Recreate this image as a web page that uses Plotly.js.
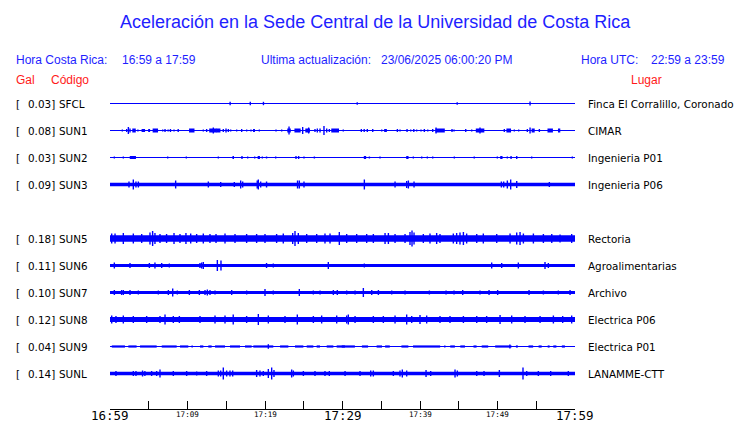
<!DOCTYPE html>
<html><head><meta charset="utf-8">
<script src="https://cdn.plot.ly/plotly-3.0.1.min.js"></script>
<style>html,body{margin:0;padding:0;background:#fff}#chart{width:740px;height:423px}</style>
</head><body><div id="chart"></div>
<script>
// ---------- DATA ----------
const codes  = ['SFCL','SUN1','SUN2','SUN3','SUN5','SUN6','SUN7','SUN8','SUN9','SUNL'];
const gal    = ['0.03','0.08','0.03','0.09','0.18','0.11','0.10','0.12','0.04','0.14'];
const places = ['Finca El Corralillo, Coronado','CIMAR','Ingenieria P01','Ingenieria P06','Rectoria',
                'Agroalimentarias','Archivo','Electrica P06','Electrica P01','LANAMME-CTT'];
const slots  = [0,1,2,3,5,6,7,8,9,10];          // row index (SUN4 row is empty)
const noise  = [0.5,0.5,0.5,1.7,3.3,1.5,1.5,2.5,0.5,1.7]; // background half-amplitude

const spanMin = [0,60];                          // minutes after 16:59
const tick5   = [0,5,10,15,20,25,30,35,40,45,50,55,60];
const labMin  = [0,10,20,30,40,50,60];
const labText = ['16:59','17:09','17:19','17:29','17:39','17:49','17:59'];
const labBig  = [true,false,false,true,false,false,true];

// events: [minute, half-amplitude, (duration in minutes)]
const evSFCL=[[15.5,1.7],[18.1,1.7],[19.8,1.7],[31.9,1.2],[44.8,1.2],[54.2,2]];
const evSUN1=[[1.59,1],[2.15,1.5],[2.37,3.5],[2.58,2],[3.1,2,0.45],[3.6,1],[4.3,1.5,0.45],[5.05,1.5,0.25],[5.85,2,0.7],[6.8,1],[7.1,1.5],[7.5,1],[7.8,1.5],[8.26,1],[8.8,1.5],[10.55,2,0.7],[12.04,1],[12.47,1.5],[13.3,2,1.0],[13.33,3],[14.0,2,0.5],[14.62,1.5],[14.97,2],[15.27,1.5],[15.57,1],[16.34,1],[16.99,1.5],[17.63,1],[18.19,1],[18.58,1.5,0.25],[19.27,1],[21.42,1],[22.15,1],[23.1,2,0.45],[23.1,4],[24.2,2,0.8],[24.86,3.5],[25.5,2,0.6],[25.63,3],[26.45,1.5],[26.75,2],[27.1,2],[27.61,4.5],[27.96,2],[28.3,1.5],[29.05,2,1.0],[30.1,1],
  [32.43,1.5],[32.8,1.5],[33.2,1.5],[33.9,1.5],[35.06,1],[35.55,1.5,0.35],[37.08,1.5],[37.42,1],[38.33,1.5],[38.8,1],[39.2,1.5],[39.57,1],[40.13,1],[40.56,1.5],[41.0,1],[41.64,1.5],[42.07,3],[42.6,2,1.2],[44.13,1.5],[44.39,1],[45.9,1.5],[46.67,1],[47.75,2,1.1],[47.74,3],[50.88,1.5],[51.45,2,0.6],[52.17,1],[52.73,1],[53.85,1.5],[54.2,3],[54.6,2,0.4],[55.4,1.5],[56.8,2,0.7],[57.95,2,0.3]];
const evSUN2=[[0.56,1],[1.72,1],[2.95,1.5,0.8],[7.44,1],[9.85,1],[13.98,1],[15.9,1.5,0.2],[17.03,1.5],[17.76,1],[18.67,1],[19.2,1.5,0.3],[19.66,1],[20.2,1],[21.38,1],[24.0,1.5],[24.34,1.5],[25.03,1],[26.37,1],[32.9,1.5,0.3],[33.47,1],[34.84,1],[38.37,1.5,0.3],[39.14,1],[40.22,1],[40.95,1],[41.64,1],[44.43,1],[47.0,1],[49.98,1],[50.5,1.5,0.3],[51.27,1],[51.75,1.5],[52.48,1.5],[54.41,1],[59.66,1]];
const evSUN3=[[2.45,3],[3.01,5],[3.35,3],[3.66,3],[8.47,4],[12.69,3],[14.28,2.5],[16.04,2.5],[16.86,4],[17.12,3],[19.0,4],[19.14,5],[19.44,3],[20.2,3],[24.2,4],[24.43,4],[25.03,3],[32.82,5],[36.78,3],[38.28,3.5],[38.5,4],[39.23,3],[50.5,3],[50.8,3],[51.27,4],[51.7,5],[52.48,3.5],[56.69,2.5]];
const evSUN5=[[0.22,5],[0.65,5],[1.72,5.5],[3.01,5],[4.09,4.5],[5.16,6],[5.5,7.5],[5.8,5.5],[6.45,4.5],[7.3,4.5],[8.26,5.5],[9.03,4.5],[9.8,5.5],[10.41,5],[11.18,4.5],[12.04,5],[12.9,4.5],[13.68,4.5],[14.84,5],[16.13,4.5],[17.63,4.5],[18.92,4.5],[20.0,4.5],[21.5,4.5],[22.36,5],[23.57,5.5],[23.87,7.5],[24.3,5.5],[25.38,4.5],[26.67,4.5],[27.74,5],[28.39,5],[29.59,6.5],
  [30.54,4.5],[31.83,4.5],[33.12,4.5],[33.98,4.5],[35.49,5.5],[35.92,5.5],[36.78,4.5],[38.07,4.5],[38.71,6.5],[38.97,8],[39.23,6],[40.43,4.5],[41.29,5],[42.15,5.5],[42.58,4.5],[44.3,5],[44.73,5.5],[45.16,6],[45.6,6.5],[46.02,5],[47.32,4.5],[48.17,5],[49.9,4.5],[51.62,5],[52.48,6],[52.91,6.5],[53.34,5],[54.63,5],[55.92,4.5],[57.0,4.5],[58.07,4],[59.57,4.5]];
const evSUN6=[[0.56,3],[2.58,2.5],[5.08,2.5],[5.8,3],[6.67,2.5],[7.66,2],[11.61,2.5],[11.83,3],[12.04,3.5],[13.85,5.5],[14.32,5],[20.2,2.5],[21.07,2],[28.17,3.5],[32.82,2],[49.25,3],[50.54,2.5],[52.69,3],[56.13,3.5],[56.56,2.5]];
const evSUN7=[[0.56,2.5],[1.5,2.5],[1.72,2.5],[2.58,2.5],[3.66,2],[6.24,2],[7.53,2.5],[8.09,4],[8.69,2],[10.24,2.5],[11.53,2.5],[12.26,2.5],[12.56,3],[12.9,2.5],[13.55,2],[15.7,2.5],[17.63,2],[20.0,3.5],[21.07,2],[24.43,3.5],[26.24,2],[27.1,2],[28.82,2.5],[29.33,2.5],
  [30.54,2],[31.62,2],[32.69,4.5],[33.77,2.5],[34.63,2.5],[36.35,2],[38.07,2],[41.21,2],[43.36,2],[44.39,2],[45.51,2.5],[47.74,2],[48.91,2.5],[50.02,2.5],[54.07,2.5],[55.92,2],[57.85,2],[59.36,2.5]];
const evSUN8=[[0.22,4],[0.77,3.5],[1.72,4],[3.01,3.5],[4.73,3.5],[6.45,3.5],[7.1,5],[8.17,3.5],[8.95,3.5],[11.61,3.5],[13.55,4],[14.84,4],[15.9,5],[17.63,3.5],[19.14,5.5],[20.43,4],[22.58,3.5],[24.17,5],[26.24,3.5],[27.31,4],[29.25,4],[30.75,5],
  [30.54,4],[31.62,3.5],[33.98,3.5],[35.27,3.5],[36.78,4],[38.28,5],[38.93,3.5],[40.0,4.5],[40.86,4],[42.58,3.5],[43.87,3.5],[45.6,3.5],[47.32,3.5],[48.6,3.5],[50.33,4.5],[51.83,4],[53.55,3.5],[55.49,3.5],[57.21,4],[58.41,3.5],[59.57,4]];
const evSUN9=[[1.08,1.1,1.7],[2.9,1.1,1.07],[4.95,1.1,2.15],[7.64,1.1,1.93],[9.57,1.1,1.07],[10.6,1.1],[11.83,1.1,0.43],[12.9,1.1,0.43],[14.2,1.1,1.29],[16.13,1.1,1.29],[17.85,1.1,0.86],[19.78,1.1,2.58],[20.43,2.3],[22.48,1.1,1.07],[24.41,1.1,1.08],[25.81,1.1,0.86],[26.88,1.1,0.43],[28.39,1.1,0.86],[29.78,1.1,1.07],
  [30.75,1.1,1.7],[32.9,1.1,0.8],[34.75,1.1,0.7],[35.8,1.1,0.6],[38.05,1.1,0.9],[40.85,1.1,3.5],[43.2,1.1],[44.2,1.1,0.6],[45.5,1.1,0.6],[47.1,1.1,0.4],[48.38,1.1,0.84],[50.75,1.1,2.1],[51.6,2],[52.5,1.1,0.25],[54.3,1.1,0.6],[55.5,1.1,0.4],[56.6,1.1,0.25],[57.4,1.1,0.4],[58.5,1.1,0.4]];
const evSUNL=[[0.77,2.5],[3.01,2.5],[3.35,2.5],[4.2,3],[4.5,2.5],[5.37,2.5],[6.02,2.5],[6.45,4],[8.17,2.5],[9.89,2.5],[11.18,2],[12.47,2.5],[13.98,3],[14.28,3],[14.62,6],[15.05,3],[15.48,3],[15.83,3],[18.92,3.5],[19.35,3],[19.78,2.5],[20.43,4.5],[20.86,6],[21.16,3.5],[23.44,4],[23.66,3],[24.95,2.5],[26.45,2.5],[27.74,2.5],[28.3,2.5],
  [30.33,2.5],[32.26,2.5],[33.64,3],[33.98,3],[36.56,2.5],[37.42,3],[37.72,4],[38.28,3],[40.78,3.5],[41.38,2.5],[44.52,4],[44.82,3],[47.32,2.5],[48.26,2.5],[50.24,3.5],[53.29,6],[53.77,2.5],[55.27,2.5],[56.86,2.5],[59.14,2.5]];
const events=[evSFCL,evSUN1,evSUN2,evSUN3,evSUN5,evSUN6,evSUN7,evSUN8,evSUN9,evSUNL];

// ---------- BUILD ----------
const AMP = 1/27;      // amplitude unit -> row units
const SPIKE_W = 0.18;  // default spike width (minutes)
const bx=[],bw=[],bb=[],bh=[];
slots.forEach((s,i)=>{
  bx.push((spanMin[0]+spanMin[1])/2); bw.push(spanMin[1]-spanMin[0]);
  bb.push(s-noise[i]*AMP); bh.push(2*noise[i]*AMP);
  events[i].forEach(e=>{
    const a=e[1]*AMP;
    bx.push(e[0]); bw.push(e.length>2?e[2]:SPIKE_W); bb.push(s-a); bh.push(2*a);
  });
});
const trace={type:'bar',x:bx,y:bh,base:bb,width:bw,marker:{color:'#0000ff',line:{width:0}},hoverinfo:'skip'};

const L=110, R=575, T=90, B=409;
const PX=x=>(x-L)/(R-L), PY=y=>(B-y)/(B-T);
const BLUE='#1e1eff', RED='#ff1a1a';
const ann=[];
function txt(text,x,y,opt){ann.push(Object.assign({text:text,x:x,y:y,xref:'paper',yref:'paper',xanchor:'left',yanchor:'middle',showarrow:false,borderpad:0},opt));}
const hfont={family:'Liberation Sans, Arial, sans-serif',size:12,color:BLUE};
const rfont={family:'Liberation Sans, Arial, sans-serif',size:12,color:RED};
txt('Hora Costa Rica:',PX(15),PY(60.5),{font:hfont});
txt('16:59 a 17:59',PX(120.5),PY(60.5),{font:hfont});
txt('Ultima actualización:',PX(260),PY(60.5),{font:hfont});
txt('23/06/2025 06:00:20 PM',PX(380),PY(60.5),{font:hfont});
txt('Hora UTC:',PX(580),PY(60.5),{font:hfont});
txt('22:59 a 23:59',PX(650),PY(60.5),{font:hfont});
txt('Gal',PX(15),PY(80),{font:rfont});
txt('Código',PX(50),PY(80),{font:rfont});
txt('Lugar',PX(630),PY(80),{font:rfont});
const lfont={family:'DejaVu Sans, sans-serif',size:10.4,color:'#000'};
slots.forEach((s,i)=>{
  txt('[',PX(15),s,{yref:'y',font:lfont});
  txt(gal[i]+']',PX(27),s,{yref:'y',font:lfont});
  txt(codes[i],PX(58),s,{yref:'y',font:lfont});
  txt(places[i],PX(587),s,{yref:'y',font:lfont});
});
labMin.forEach((m,i)=>{
  ann.push({text:labText[i],x:m,xref:'x',y:PY(labBig[i]?415.5:414.5),yref:'paper',xanchor:'center',yanchor:'middle',showarrow:false,borderpad:0,
    font:{family:'DejaVu Sans Mono, monospace',size:labBig[i]?12.5:7.6,color:'#000'}});
});

const layout={
  width:740,height:423,margin:{l:L,r:740-R,t:T,b:423-B,pad:0},
  paper_bgcolor:'#fff',plot_bgcolor:'#fff',showlegend:false,hovermode:false,barmode:'overlay',
  title:{text:'Aceleración en la Sede Central de la Universidad de Costa Rica',
    font:{family:'Liberation Sans, Arial, sans-serif',size:18,color:BLUE},
    x:0.507,xref:'container',xanchor:'center',y:1-22/423,yref:'container',yanchor:'middle'},
  xaxis:{range:spanMin,showgrid:false,zeroline:false,showline:true,linecolor:'#000',linewidth:1,
    ticks:'inside',ticklen:8,tickwidth:1,tickcolor:'#000',tickmode:'array',tickvals:tick5,showticklabels:false,fixedrange:true},
  yaxis:{range:[(B-T)/27-0.5,-0.5],visible:false,fixedrange:true},
  annotations:ann
};
Plotly.newPlot('chart',[trace],layout,{staticPlot:true,displayModeBar:false});
</script></body></html>
